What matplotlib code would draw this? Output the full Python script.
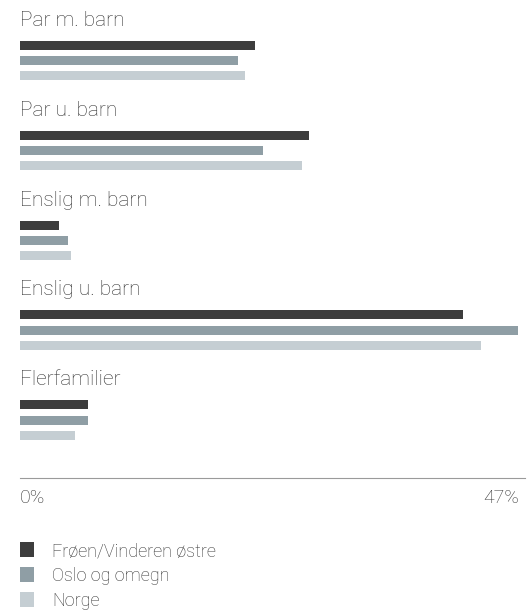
import numpy as np
import matplotlib.pyplot as plt
from matplotlib.patches import Patch

plt.rcParams['font.family'] = ['Roboto', 'DejaVu Sans']

categories = ["Par m. barn", "Par u. barn", "Enslig m. barn", "Enslig u. barn", "Flerfamilier"]
series = ["Frøen/Vinderen østre", "Oslo og omegn", "Norge"]
frøen = [22.1, 27.2, 3.7, 41.7, 6.4]
oslo = [20.5, 22.9, 4.5, 46.9, 6.4]
norge = [21.2, 26.6, 4.8, 43.4, 5.2]
x_max = 47

colors = ["#3d3d3d", "#8f9ea5", "#c5ced3"]
text_color = "#333333"

W, H = 528, 614
fig = plt.figure(figsize=(W / 100, H / 100), dpi=100)
# axes spans in pixel units vertically so the layout is easy to reason about
ax = fig.add_axes([20 / W, 1 - 478 / H, 499 / W, 478 / H])
ax.set_xlim(0, x_max)
ax.set_ylim(478, 0)

group_step = 90
for g, cat in enumerate(categories):
    base = g * group_step
    ax.text(0, base + 20, cat, fontsize=15, color=text_color,
            va="center", ha="left", fontweight="light")
    for k, vals in enumerate([frøen, oslo, norge]):
        ax.barh(base + 45 + k * 15.3, vals[g], height=9, color=colors[k], left=0)

for side in ["top", "left", "right"]:
    ax.spines[side].set_visible(False)
ax.spines["bottom"].set_color("#9a9a9a")
ax.spines["bottom"].set_linewidth(0.8)
ax.spines["bottom"].set_bounds(0, 47.6)
ax.set_yticks([])
ax.set_xticks([0, x_max])
ax.set_xticklabels(["0%", f"{x_max}%"], fontsize=14, color=text_color, fontweight="light")
ax.tick_params(axis="x", length=0, pad=8)
labels = ax.get_xticklabels()
labels[0].set_ha("left")
labels[1].set_ha("right")

handles = [Patch(facecolor=c, edgecolor="none") for c in colors]
fig.legend(handles, series, loc="upper left", bbox_to_anchor=(20 / W, 1 - 542 / H),
           frameon=False, borderpad=0, borderaxespad=0,
           handlelength=0.8, handleheight=0.9, handletextpad=1.0,
           labelspacing=0.38, prop={"size": 13, "weight": "light"}, labelcolor=text_color)

fig.savefig("out.png", dpi=100)
